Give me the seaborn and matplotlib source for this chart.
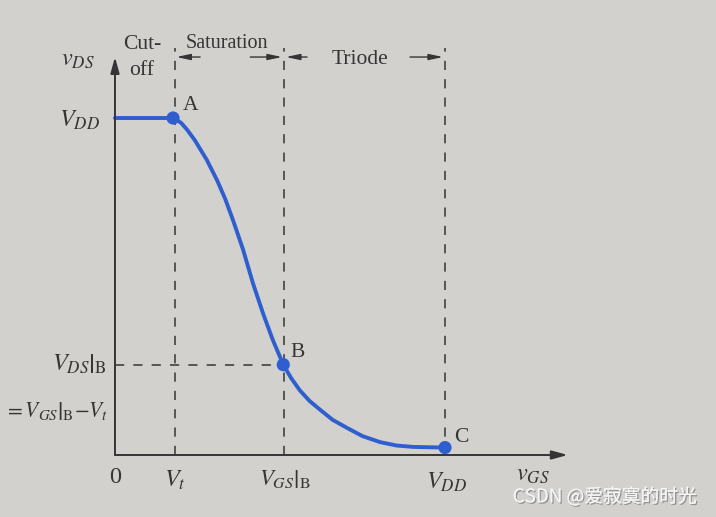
import matplotlib
matplotlib.use('Agg')
import numpy as np
import pandas as pd
import seaborn as sns
from matplotlib import pyplot as plt
from matplotlib import patheffects

# transfer characteristic (vGS, vDS in volts, VDD = 5 V)
v_gs = [0.0, 0.88, 1.00, 1.09, 1.21, 1.39, 1.55, 1.67, 1.79, 1.94, 2.09, 2.24, 2.39, 2.55,
        2.67, 2.80, 2.95, 3.11, 3.30, 3.52, 3.75, 4.02, 4.27, 4.52, 5.0]
v_ds = [5.0, 5.0, 4.93, 4.83, 4.67, 4.38, 4.07, 3.80, 3.48, 3.05, 2.55, 2.11, 1.71, 1.34,
        1.14, 0.96, 0.80, 0.67, 0.52, 0.40, 0.28, 0.19, 0.14, 0.12, 0.11]

VDD = 5.0
Vt = 0.91
VGS_B = 2.56
VDS_B = 1.34

point_names = ['A', 'B', 'C']
point_x = [0.88, 2.55, 5.0]
point_y = [5.0, 1.34, 0.11]

curve_color = '#2f5fcf'
ink = '#353535'
bg = '#d2d1cd'

sns.set_theme(style='white')
plt.rcParams['font.family'] = ['Liberation Serif', 'DejaVu Serif']
plt.rcParams['mathtext.fontset'] = 'stix'

fig = plt.figure(figsize=(7.16, 5.17), dpi=100)
fig.patch.set_facecolor(bg)
ax = fig.add_axes([0, 0, 1, 1])
ax.set_facecolor(bg)
ax.set_xlim(-1.742, 9.106)
ax.set_ylim(-0.920, 6.751)
ax.axis('off')

# axes with arrows
ax.annotate('', xy=(6.86, 0), xytext=(0, 0),
            arrowprops=dict(arrowstyle='-|>,head_length=0.8,head_width=0.22', color=ink, lw=1.4,
                            shrinkA=0, shrinkB=0))
ax.annotate('', xy=(0, 5.905), xytext=(0, 0),
            arrowprops=dict(arrowstyle='-|>,head_length=0.8,head_width=0.22', color=ink, lw=1.4,
                            shrinkA=0, shrinkB=0))

# dashed guide lines
for xv in [Vt, VGS_B, VDD]:
    ax.plot([xv, xv], [0, 6.04], color=ink, lw=1.1, dashes=(6, 6))
ax.plot([0, VGS_B], [VDS_B, VDS_B], color=ink, lw=1.1, dashes=(6, 6))

# region arrows
arr = dict(arrowstyle='-|>,head_length=0.7,head_width=0.15', color=ink, lw=1.0, shrinkA=0, shrinkB=0)
ya = 5.905
ax.annotate('', xy=(Vt + 0.02, ya), xytext=(1.29, ya), arrowprops=arr)
ax.annotate('', xy=(VGS_B - 0.03, ya), xytext=(2.05, ya), arrowprops=arr)
ax.annotate('', xy=(VGS_B + 0.03, ya), xytext=(2.91, ya), arrowprops=arr)
ax.annotate('', xy=(VDD - 0.03, ya), xytext=(4.47, ya), arrowprops=arr)

# curve and points
df = pd.DataFrame({'vGS': v_gs, 'vDS': v_ds})
sns.lineplot(data=df, x='vGS', y='vDS', ax=ax, color=curve_color, lw=2.8, sort=False,
             solid_joinstyle='round', solid_capstyle='round')
sns.scatterplot(x=point_x, y=point_y, ax=ax, color=curve_color, s=90, edgecolor='none', zorder=5)

fs = 15.5
for name, px, py, dx, dy in zip(point_names, point_x, point_y, [0.27, 0.22, 0.25], [0.18, 0.18, 0.15]):
    ax.text(px + dx, py + dy, name, fontsize=fs, color=ink, ha='center', va='center')

# region labels
ax.text(0.41, 6.09, 'Cut-', fontsize=fs, color=ink, ha='center', va='center')
ax.text(0.41, 5.71, 'off', fontsize=fs, color=ink, ha='center', va='center')
ax.text(1.70, 6.11, 'Saturation', fontsize=14.5, color=ink, ha='center', va='center')
ax.text(3.71, 5.87, 'Triode', fontsize=fs, color=ink, ha='center', va='center')

# axis labels
ms = 17.5
ax.text(-0.56, 5.86, r'$v_{DS}$', fontsize=ms, color=ink, ha='center', va='center')
ax.text(-0.22, 4.97, r'$V_{DD}$', fontsize=ms, color=ink, ha='right', va='center')
ax.text(-0.12, VDS_B, r'$\left.V_{DS}\right|_{\mathrm{B}}$', fontsize=ms, color=ink, ha='right', va='center')
ax.text(-0.10, 0.66, r'${=}\left.V_{GS}\right|_{\mathrm{B}}{-}V_t$', fontsize=15.5, color=ink,
        ha='right', va='center')
ax.text(0, -0.34, '0', fontsize=ms, color=ink, ha='center', va='center')
ax.text(Vt, -0.37, r'$V_t$', fontsize=ms, color=ink, ha='center', va='center')
ax.text(VGS_B + 0.02, -0.36, r'$\left.V_{GS}\right|_{\mathrm{B}}$', fontsize=16.5, color=ink, ha='center', va='center')
ax.text(VDD + 0.02, -0.40, r'$V_{DD}$', fontsize=ms, color=ink, ha='center', va='center')
ax.text(6.33, -0.30, r'$v_{GS}$', fontsize=ms, color=ink, ha='center', va='center')

# watermark
ax.text(7.42, -0.62, 'CSDN @爱寂寞的时光', fontsize=13.5, color='#f4f4f4', ha='center', va='center',
        family=['Noto Sans CJK SC', 'DejaVu Sans'],
        path_effects=[patheffects.withSimplePatchShadow(offset=(1, -1), shadow_rgbFace='#555555', alpha=0.5),
                      patheffects.Normal()])

fig.savefig('out.png', dpi=100, facecolor=bg)
